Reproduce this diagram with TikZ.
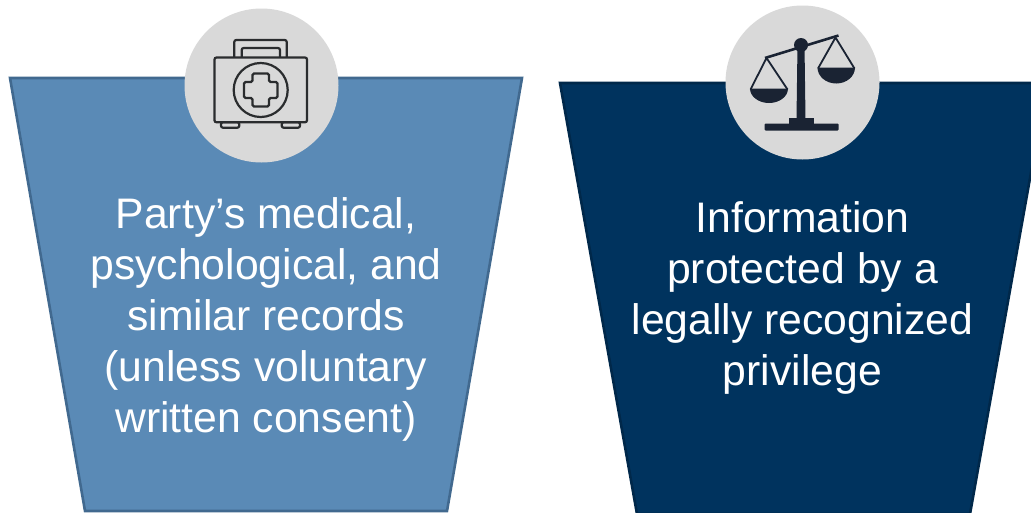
\documentclass[tikz,border=0pt]{standalone}
\usepackage{fontspec}
\setmainfont{Liberation Sans}
\definecolor{lightblue}{HTML}{5A8AB6}
\definecolor{lightedge}{HTML}{41698F}
\definecolor{darkblue}{HTML}{00335E}
\definecolor{darkedge}{HTML}{00284A}
\definecolor{disc}{HTML}{D9D9D9}
\definecolor{inkdark}{HTML}{2A2C2E}
\definecolor{inkscale}{HTML}{1A2333}
\tikzstyle{panel} = [line width=2.6pt, line join=miter]
\tikzstyle{badge} = [circle, fill=disc, inner sep=0, minimum size=154pt]
\tikzstyle{caption} = [text=white, align=center, inner sep=0, font=\fontsize{42.7}{51}\selectfont]
\tikzstyle{kit} = [draw=inkdark, line width=2.2pt, rounded corners=2pt]
\tikzstyle{scalebody} = [fill=inkscale, draw=none]
\tikzstyle{scalecord} = [draw=inkscale, line width=1.8pt]

\begin{document}
\begin{tikzpicture}[x=1pt, y=-1pt]
\clip (0,0) rectangle (1031,512);
\fill [white] (0,0) rectangle (1031,512);

% panels
\path [panel, draw=lightedge, fill=lightblue] (10,78) -- (522,78) -- (447,511) -- (85,511) -- cycle;
\path [panel, draw=darkedge, fill=darkblue] (560,83) -- (1047,83) -- (970,514) -- (637,514) -- cycle;

\node [badge] (kitdisc) at (261.5,85.5) {};
\node [badge] (scaledisc) at (802.5,82.5) {};

% first aid kit
\draw [kit] (234.3,57.5) -- (234.3,40) -- (286.7,40) -- (286.7,57.5);
\draw [kit] (241.7,57.5) -- (241.7,48) -- (280,48) -- (280,57.5);
\draw [kit] (214.5,57.5) rectangle (307,122.3);
\draw [kit] (221,122.3) rectangle (239.3,127.7);
\draw [kit] (281.7,122.3) rectangle (300,127.7);
\draw [kit, rounded corners=0] (260.7,90) circle (27);
\draw [kit, rounded corners=1.5pt] (252.5,73.5) -- (269,73.5) -- (269,82) -- (277.5,82) -- (277.5,98) -- (269,98) -- (269,106.5) -- (252.5,106.5) -- (252.5,98) -- (244,98) -- (244,82) -- (252.5,82) -- cycle;

% scales
\draw [scalecord, line width=2.6pt] (765,58) -- (838.5,35.5);
\draw [scalecord] (766.5,58) -- (750.5,89.5) (766.5,58) -- (787.5,89.5);
\draw [scalecord] (835.5,37.5) -- (818,68.5) (835.5,37.5) -- (854.5,68.5);
\fill [scalebody] (750,88.5) -- (788,88.5) arc [start angle=0, end angle=180, x radius=19, y radius=14.5] -- cycle;
\fill [scalebody] (817.5,67.5) -- (855,67.5) arc [start angle=0, end angle=180, x radius=18.75, y radius=16] -- cycle;
\fill [scalebody] (801,45) circle (7);
\fill [scalebody] (797.5,45) -- (804.5,45) -- (805.5,119) -- (796.5,119) -- cycle;
\fill [scalebody] (789,118) rectangle (813.5,124);
\fill [scalebody, rounded corners=1pt] (764.5,123.5) rectangle (838.5,130.5);

\node [caption] (medical) at (266,319.5) {Party’s medical,\\psychological, and\\similar records\\(unless voluntary\\written consent)};
\node [caption] (privilege) at (802.5,298) {Information\\protected by a\\legally recognized\\privilege};

\end{tikzpicture}
\end{document}
